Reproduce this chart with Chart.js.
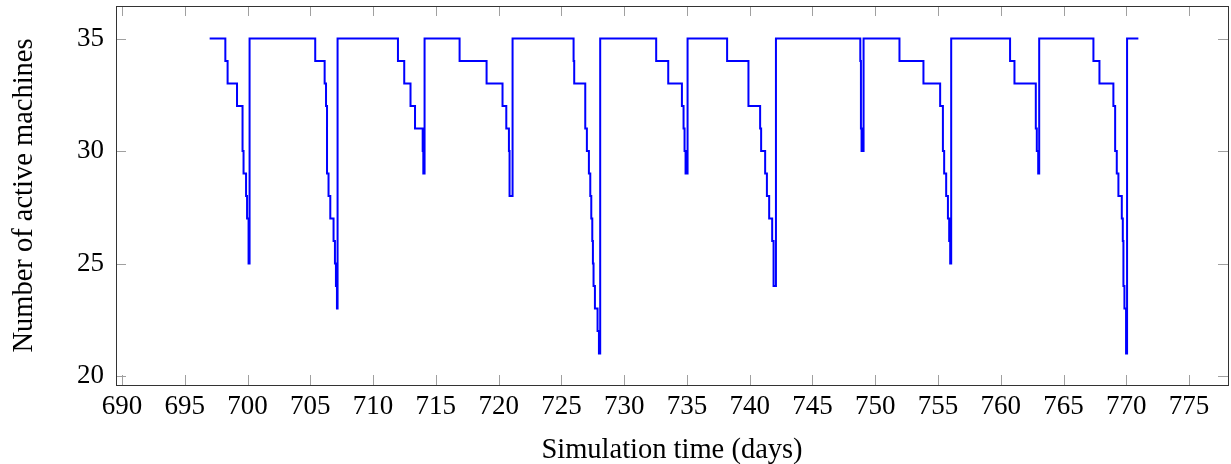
<!DOCTYPE html>
<html>
<head>
<meta charset="utf-8">
<script src="https://cdn.jsdelivr.net/npm/chart.js@4/dist/chart.umd.min.js"></script>
<style>
  html, body { margin: 0; padding: 0; background: #fff; }
  #wrap { width: 1231px; height: 464px; position: relative; }
</style>
</head>
<body>
<div id="wrap"><canvas id="chart"></canvas></div>
<script>
// --- DATA ---
// each point: from this time on, the number of active machines is the value
const simTime = [
  696.98,
  698.23, 698.41, 699.16, 699.6, 699.68, 699.88, 699.96, 700.08, 700.16,
  705.39, 706.14, 706.25, 706.33, 706.45, 706.59, 706.85, 706.96, 707.04, 707.12, 707.17,
  711.98, 712.48, 712.98, 713.34, 713.95, 714.0, 714.1,
  716.89, 719.04, 720.31, 720.61, 720.82, 720.87, 721.11,
  725.97, 726.02, 726.9, 727.03, 727.19, 727.3, 727.38, 727.46, 727.51, 727.56, 727.67, 727.88, 727.99, 728.09,
  732.55, 733.51, 734.6, 734.73, 734.81, 734.89, 735.05,
  738.2, 739.9, 740.83, 740.91, 741.23, 741.37, 741.55, 741.79, 741.9, 742.09,
  748.81, 748.86, 748.91, 749.07,
  751.93, 753.84, 755.17, 755.39, 755.49, 755.65, 755.79, 755.89, 755.97, 756.05,
  760.74, 761.09, 762.79, 762.87, 762.98, 763.06,
  767.38, 767.86, 768.97, 769.11, 769.24, 769.37, 769.64, 769.72, 769.77, 769.85, 769.98, 770.06,
  770.96
];
const activeMachines = [
  35,
  34, 33, 32, 30, 29, 28, 27, 25, 35,
  34, 33, 32, 29, 28, 27, 26, 25, 24, 23, 35,
  34, 33, 32, 31, 30, 29, 35,
  34, 33, 32, 31, 30, 28, 35,
  34, 33, 31, 30, 29, 28, 27, 26, 25, 24, 23, 22, 21, 35,
  34, 33, 32, 31, 30, 29, 35,
  34, 32, 31, 30, 29, 28, 27, 26, 24, 35,
  34, 31, 30, 35,
  34, 33, 32, 30, 29, 28, 27, 26, 25, 35,
  34, 33, 31, 30, 29, 35,
  34, 33, 32, 30, 29, 28, 27, 26, 24, 23, 21, 35,
  35
];
const xTicks = [690, 695, 700, 705, 710, 715, 720, 725, 730, 735, 740, 745, 750, 755, 760, 765, 770, 775];
const yTicks = [20, 25, 30, 35];

const xTitle = "Simulation time (days)";
const yTitle = "Number of active machines";

const points = simTime.map((t, i) => ({ x: t, y: activeMachines[i] }));

const serif = "'Liberation Serif', 'DejaVu Serif', serif";

// pgfplots-like frame with inward ticks on all four sides
const framePlugin = {
  id: "frame",
  beforeDatasetsDraw(chart) {
    const { ctx, chartArea: a, scales } = chart;
    const len = 10;
    ctx.save();
    ctx.strokeStyle = "#a0a0a0";
    ctx.lineWidth = 1;
    ctx.beginPath();
    xTicks.forEach(v => {
      const px = Math.round(scales.x.getPixelForValue(v)) + 0.5;
      ctx.moveTo(px, a.bottom); ctx.lineTo(px, a.bottom - len);
      ctx.moveTo(px, a.top); ctx.lineTo(px, a.top + len);
    });
    yTicks.forEach(v => {
      const py = Math.round(scales.y.getPixelForValue(v)) + 0.5;
      ctx.moveTo(a.left, py); ctx.lineTo(a.left + len, py);
      ctx.moveTo(a.right, py); ctx.lineTo(a.right - len, py);
    });
    ctx.stroke();
    ctx.restore();
  },
  afterDraw(chart) {
    const { ctx, chartArea: a } = chart;
    ctx.save();
    ctx.strokeStyle = "#333";
    ctx.lineWidth = 1;
    ctx.strokeRect(Math.round(a.left) + 0.5, Math.round(a.top) + 0.5,
      Math.round(a.right - a.left), Math.round(a.bottom - a.top));
    ctx.restore();
  }
};

new Chart(document.getElementById("chart"), {
  type: "line",
  data: {
    datasets: [{
      data: points,
      borderColor: "#0000ff",
      borderWidth: 2,
      pointRadius: 0,
      stepped: "before",
      fill: false
    }]
  },
  options: {
    responsive: true,
    maintainAspectRatio: false,
    animation: false,
    devicePixelRatio: 1,
    layout: { padding: { top: 6, right: 3, left: 0, bottom: 0 } },
    plugins: { legend: { display: false }, tooltip: { enabled: false } },
    scales: {
      x: {
        type: "linear",
        min: 689.52,
        max: 778.1,
        afterBuildTicks: s => { s.ticks = xTicks.map(v => ({ value: v })); },
        afterFit: s => { s.height = 79; s.paddingLeft = 0; s.paddingRight = 0; },
        grid: { display: false, drawTicks: false },
        border: { display: false },
        ticks: {
          autoSkip: false,
          maxRotation: 0,
          padding: 6,
          color: "#000",
          font: { family: serif, size: 27 },
          callback: v => String(v)
        },
        title: {
          display: true,
          text: xTitle,
          color: "#000",
          font: { family: serif, size: 28.5, lineHeight: 1.1 },
          padding: { top: 0, bottom: -2 }
        }
      },
      y: {
        min: 19.6,
        max: 36.45,
        afterBuildTicks: s => { s.ticks = yTicks.map(v => ({ value: v })); },
        afterFit: s => { s.width = 116; s.paddingTop = 0; s.paddingBottom = 0; },
        grid: { display: false, drawTicks: false },
        border: { display: false },
        ticks: {
          padding: 12,
          color: "#000",
          font: { family: serif, size: 27 },
          callback: v => String(v)
        },
        title: {
          display: true,
          text: yTitle,
          color: "#000",
          font: { family: serif, size: 28.5, lineHeight: 1.1 },
          padding: { top: 9, bottom: 0 }
        }
      }
    }
  },
  plugins: [framePlugin]
});
</script>
</body>
</html>
